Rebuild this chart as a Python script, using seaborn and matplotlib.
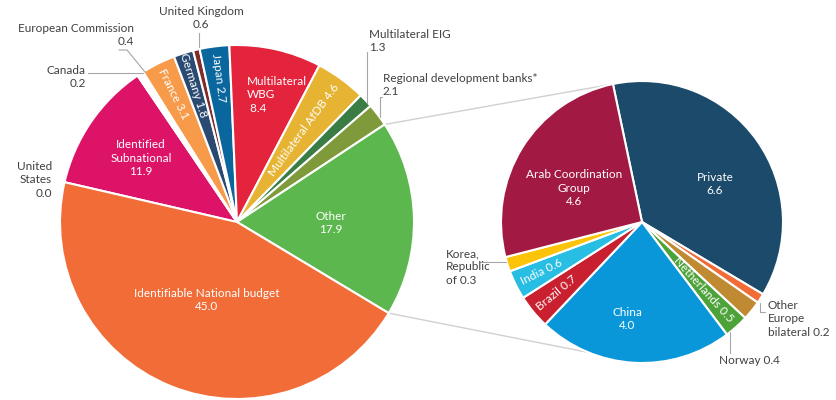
import numpy as np
import matplotlib
matplotlib.use("Agg")
import matplotlib.pyplot as plt
import seaborn as sns
from matplotlib.lines import Line2D
from matplotlib.patches import ConnectionPatch

# ---------------- data ----------------
main_labels = ["Identified Subnational", "United States", "Canada", "European Commission",
               "France", "Germany", "United Kingdom", "Japan", "Multilateral WBG",
               "Multilateral AfDB", "Multilateral EIG", "Regional development banks*",
               "Other", "Identifiable National budget"]
main_values = [11.9, 0.0, 0.2, 0.4, 3.1, 1.8, 0.6, 2.7, 8.4, 4.6, 1.3, 2.1, 17.9, 45.0]
main_colors = ["#DD1367", "#FFFFFF", "#2DB8E0", "#FFFFFF", "#F79B4B", "#2A4A72", "#7D2B2B",
               "#0A679E", "#E4233D", "#E6B432", "#3A7D44", "#7F9A3A", "#5CB84E", "#F26C37"]

sub_labels = ["Private", "Other Europe bilateral", "Norway", "Netherlands", "China",
              "Brazil", "India", "Korea, Republic of", "Arab Coordination Group"]
sub_values = [6.6, 0.2, 0.4, 0.5, 4.0, 0.7, 0.6, 0.3, 4.6]
sub_colors = ["#1C4A6B", "#F26C37", "#C08A33", "#4EA23A", "#0A97D9", "#C8202F",
              "#28BDE2", "#FCC30B", "#A21A43"]

# ---------------- style ----------------
sns.set_theme(style="white")
plt.rcParams["font.family"] = ["Lato", "DejaVu Sans"]
FS = 8.5
TXT = "#404040"
LINE = "#A6A6A6"

W, H = 837, 400
fig = plt.figure(figsize=(W / 100, H / 100), dpi=100)

def fx(x):
    return x / W

def fy(y):
    return 1 - y / H

# main pie axes (centre 237,222 px, radius 177 px)
c1x, c1y, r1 = 237, 222, 177
ax1 = fig.add_axes([fx(c1x - r1), fy(c1y + r1), 2 * r1 / W, 2 * r1 / H])
w1, _ = ax1.pie(main_values, colors=main_colors, startangle=167, counterclock=False,
                radius=1, wedgeprops=dict(edgecolor="white", linewidth=1.5))
ax1.set_xlim(-1, 1); ax1.set_ylim(-1, 1); ax1.axis("off")

# second pie axes (centre 642,222 px, radius 141 px)
c2x, c2y, r2 = 642, 222, 141
ax2 = fig.add_axes([fx(c2x - r2), fy(c2y + r2), 2 * r2 / W, 2 * r2 / H])
w2, _ = ax2.pie(sub_values, colors=sub_colors, startangle=101.9, counterclock=False,
                radius=1, wedgeprops=dict(edgecolor="white", linewidth=1.5))
ax2.set_xlim(-1, 1); ax2.set_ylim(-1, 1); ax2.axis("off")

def mid(w):
    return np.deg2rad((w.theta1 + w.theta2) / 2)

def radial_label(ax, w, text, r, outward=True, fs=FS):
    a = mid(w)
    deg = np.rad2deg(a)
    rot = deg if outward else deg - 180
    rot = (rot + 180) % 360 - 180
    ax.text(r * np.cos(a), r * np.sin(a), text, rotation=rot, rotation_mode="anchor",
            ha="center", va="center", color="white", fontsize=fs)

def ptext(x, y, s, ha="center", color=TXT, **kw):
    fig.text(fx(x), fy(y), s, ha=ha, va="center", color=color, fontsize=FS,
             linespacing=1.25, **kw)

def fmt(v):
    return f"{v:.1f}"

mv = dict(zip(main_labels, main_values))
mw = dict(zip(main_labels, w1))
sv = dict(zip(sub_labels, sub_values))
sw = dict(zip(sub_labels, w2))

# ---- main pie inside labels ----
ptext(207, 300, f"Identifiable National budget\n{fmt(mv['Identifiable National budget'])}", color="white")
ptext(141, 158, f"Identified\nSubnational\n{fmt(mv['Identified Subnational'])}", color="white")
ptext(331, 223, f"Other\n{fmt(mv['Other'])}", color="white")
ptext(247, 95, f"Multilateral\nWBG\n {fmt(mv['Multilateral WBG'])}", ha="left", color="white")
radial_label(ax1, mw["France"], f"France {fmt(mv['France'])}", 0.81, outward=False)
radial_label(ax1, mw["Germany"], f"Germany {fmt(mv['Germany'])}", 0.81, outward=False)
radial_label(ax1, mw["Japan"], f"Japan {fmt(mv['Japan'])}", 0.82, outward=False)
radial_label(ax1, mw["Multilateral AfDB"], f"Multilateral AfDB {fmt(mv['Multilateral AfDB'])}", 0.64, outward=True)

# ---- main pie outside labels ----
ptext(201, 18, f"United Kingdom\n{fmt(mv['United Kingdom'])}")
ptext(134, 35, f"European Commission\n{fmt(mv['European Commission'])}", ha="right")
ptext(86, 77, f"Canada\n{fmt(mv['Canada'])}", ha="right")
ptext(52, 180, f"United\nStates\n{fmt(mv['United States'])}", ha="right")
ptext(369, 41, f"Multilateral EIG\n{fmt(mv['Multilateral EIG'])}", ha="left")
ptext(383, 85, f"Regional development banks*\n{fmt(mv['Regional development banks*'])}", ha="left")

# ---- second pie inside labels ----
ptext(715, 184, f"Private\n{fmt(sv['Private'])}", color="white")
ptext(574, 188, f"Arab Coordination\nGroup\n{fmt(sv['Arab Coordination Group'])}", color="white")
ptext(627, 319, f"China\n{fmt(sv['China'])}", color="white")
radial_label(ax2, sw["India"], f"India {fmt(sv['India'])}", 0.8, outward=False)
radial_label(ax2, sw["Brazil"], f"Brazil {fmt(sv['Brazil'])}", 0.79, outward=False)
radial_label(ax2, sw["Netherlands"], f"Netherlands {fmt(sv['Netherlands'])}", 0.65, outward=True)

# ---- second pie outside labels ----
ptext(446, 267, f"Korea,\nRepublic\nof {fmt(sv['Korea, Republic of'])}", ha="left")
ptext(768, 319, f"Other\nEurope\nbilateral {fmt(sv['Other Europe bilateral'])}", ha="left")
ptext(719, 361, f"Norway {fmt(sv['Norway'])}", ha="left")

# ---- leader lines (pixel polylines) ----
leaders = [
    [(199, 33), (199, 47)],
    [(119, 50), (127, 50), (145, 72)],
    [(88, 73), (143, 73)],
    [(367, 52), (367, 103)],
    [(382, 97), (380, 97), (380, 117)],
    [(480, 262), (506, 262)],
    [(760, 303), (760, 312), (765, 312)],
    [(730, 332), (730, 353)],
]
for pts in leaders:
    xs = [fx(p[0]) for p in pts]
    ys = [fy(p[1]) for p in pts]
    fig.add_artist(Line2D(xs, ys, transform=fig.transFigure, color=LINE, lw=0.8))

# ---- connector lines between pies ----
other = mw["Other"]
a_top = np.deg2rad(other.theta2)
a_bot = np.deg2rad(other.theta1)
b_top = np.deg2rad(sw["Private"].theta2)
for xa, xb in [((np.cos(a_top), np.sin(a_top)), (np.cos(b_top), np.sin(b_top))),
               ((np.cos(a_bot), np.sin(a_bot)), (0, -1))]:
    con = ConnectionPatch(xyA=xa, coordsA=ax1.transData, xyB=xb, coordsB=ax2.transData,
                          color="#D0D0D0", lw=1)
    con.set_zorder(-1)
    fig.add_artist(con)

fig.savefig("out.png", dpi=100)
